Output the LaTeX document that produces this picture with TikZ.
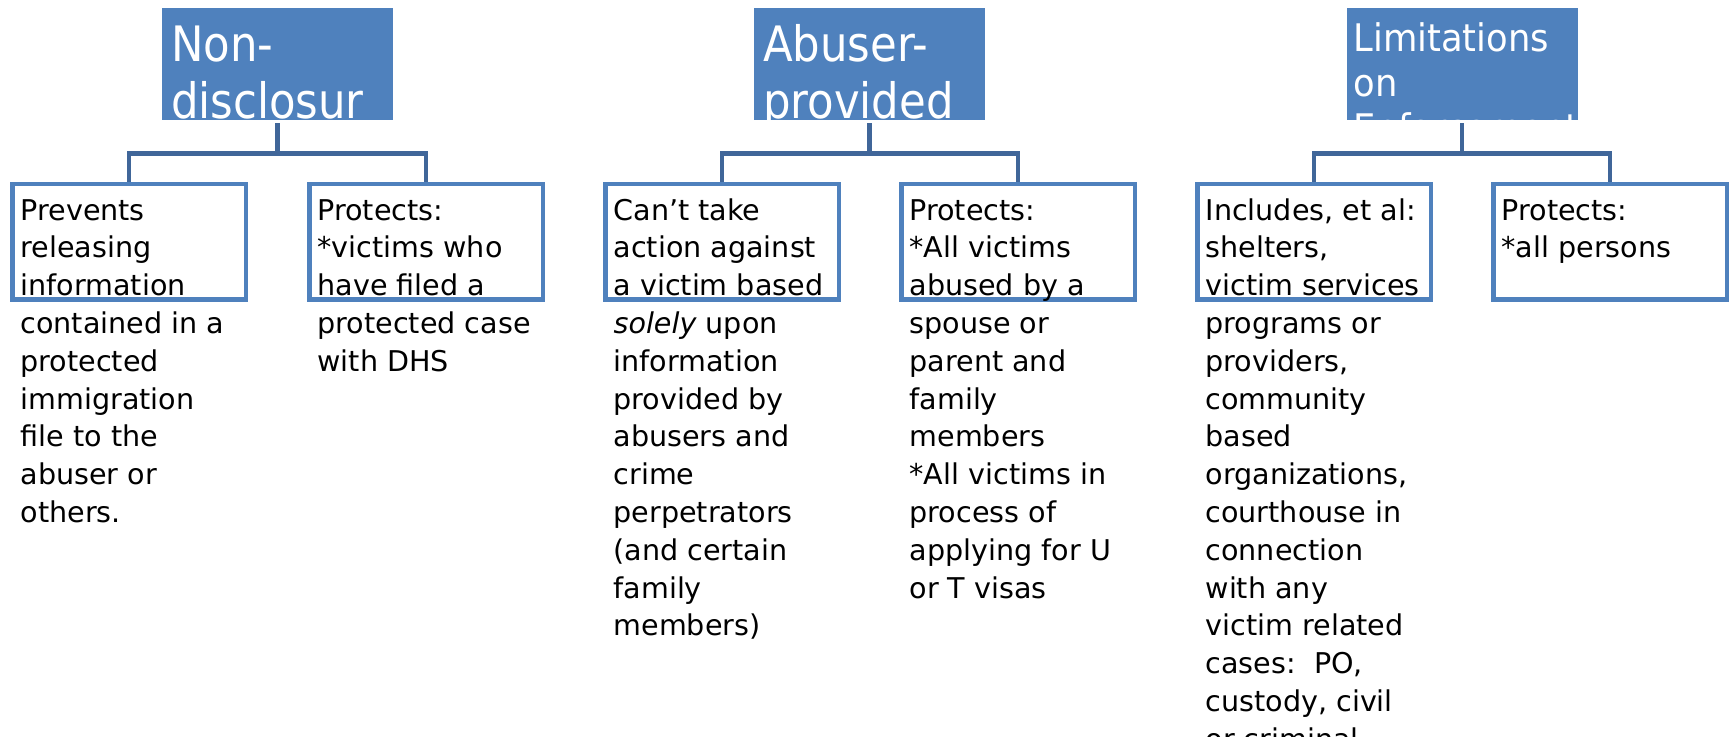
\documentclass[tikz,border=0pt]{standalone}
\usepackage{fontspec}
\setmainfont{DejaVu Sans}
\newfontfamily\hdrfont[FakeStretch=0.89]{DejaVu Sans}
\newfontfamily\hdrfontwide[FakeStretch=0.93]{DejaVu Sans}

\definecolor{hdrblue}{RGB}{79,129,189}
\definecolor{itemblue}{RGB}{79,129,189}
\definecolor{connblue}{RGB}{64,102,153}

\tikzset{
  hdr/.style={rectangle, fill=hdrblue, inner sep=0pt, minimum width=115.5pt, minimum height=56pt},
  item/.style={rectangle, draw=itemblue, line width=2.25pt, fill=white, inner sep=0pt,
    minimum width=116.75pt, minimum height=57.75pt},
  conn/.style={draw=connblue, line width=2.25pt},
  itemtext/.style={anchor=north west, inner sep=0pt, align=left,
    font=\fontsize{14.3}{18.9}\selectfont},
  hdrtext/.style={anchor=north west, inner sep=0pt, align=left, text=white,
    font=\hdrfont\fontsize{24.4}{28.5}\selectfont},
  hdrsmall/.style={hdrtext, font=\hdrfontwide\fontsize{19}{22.5}\selectfont},
}

\begin{document}
\begin{tikzpicture}[x=0.5pt,y=0.5pt,yscale=-1,xscale=1]
\fill[white] (0,0) rectangle (1735,737);
\useasboundingbox (0,0) rectangle (1735,737);

%Shape: header boxes
\node[hdr] (hdrA) at (277.5,64) {};
\node[hdr] (hdrB) at (869.5,64) {};
\node[hdr] (hdrC) at (1462,64) {};

% Header Text (cut off at the box edge)
\begin{scope}
\clip (hdrA.north west) rectangle (hdrA.south east);
\node[hdrtext] at ([xshift=4.5pt,yshift=7pt]hdrA.north west) {\strut Non-\\disclosur};
\end{scope}
\begin{scope}
\clip (hdrB.north west) rectangle (hdrB.south east);
\node[hdrtext] at ([xshift=4.5pt,yshift=7pt]hdrB.north west) {\strut Abuser-\\provided};
\end{scope}
\begin{scope}
\clip (hdrC.north west) rectangle (hdrC.south east);
\node[hdrsmall] at ([xshift=3.5pt,yshift=6.1pt]hdrC.north west) {\strut Limitations\\on\\Enforcement};
\end{scope}

%Shape: item boxes
\node[item] (boxA1) at (129,242) {};
\node[item] (boxA2) at (426,242) {};
\node[item] (boxB1) at (722,242) {};
\node[item] (boxB2) at (1018,242) {};
\node[item] (boxC1) at (1314,242) {};
\node[item] (boxC2) at (1610,242) {};

% Connectors
\draw[conn] (hdrA.south) ++(0,3) -- ++(0,30) coordinate (jA);
\draw[conn] (boxA1.north) |- (jA) -| (boxA2.north);
\draw[conn] (hdrB.south) ++(0,3) -- ++(0,30) coordinate (jB);
\draw[conn] (boxB1.north) |- (jB) -| (boxB2.north);
\draw[conn] (hdrC.south) ++(0,3) -- ++(0,30) coordinate (jC);
\draw[conn] (boxC1.north) |- (jC) -| (boxC2.north);

% Item Text (runs on below the boxes)
\node[itemtext] (txtA1) at ([xshift=5.1pt,yshift=5.6pt]boxA1.north west)
  {\strut Prevents\\releasing\\information\\contained in a\\protected\\immigration\\file to the\\abuser or\\others.};
\node[itemtext] (txtA2) at ([xshift=5.1pt,yshift=5.6pt]boxA2.north west)
  {\strut Protects:\\*victims who\\have filed a\\protected case\\with DHS};
\node[itemtext] (txtB1) at ([xshift=5.1pt,yshift=5.6pt]boxB1.north west)
  {\strut Can’t take\\action against\\a victim based\\\textit{solely} upon\\information\\provided by\\abusers and\\crime\\perpetrators\\(and certain\\family\\members)};
\node[itemtext] (txtB2) at ([xshift=5.1pt,yshift=5.6pt]boxB2.north west)
  {\strut Protects:\\*All victims\\abused by a\\spouse or\\parent and\\family\\members\\*All victims in\\process of\\applying for U\\or T visas};
\node[itemtext] (txtC1) at ([xshift=5.1pt,yshift=5.6pt]boxC1.north west)
  {\strut Includes, et al:\\shelters,\\victim services\\programs or\\providers,\\community\\based\\organizations,\\courthouse in\\connection\\with any\\victim related\\cases:\ \ PO,\\custody, civil\\or criminal};
\node[itemtext] (txtC2) at ([xshift=5.1pt,yshift=5.6pt]boxC2.north west)
  {\strut Protects:\\*all persons};

\end{tikzpicture}
\end{document}
